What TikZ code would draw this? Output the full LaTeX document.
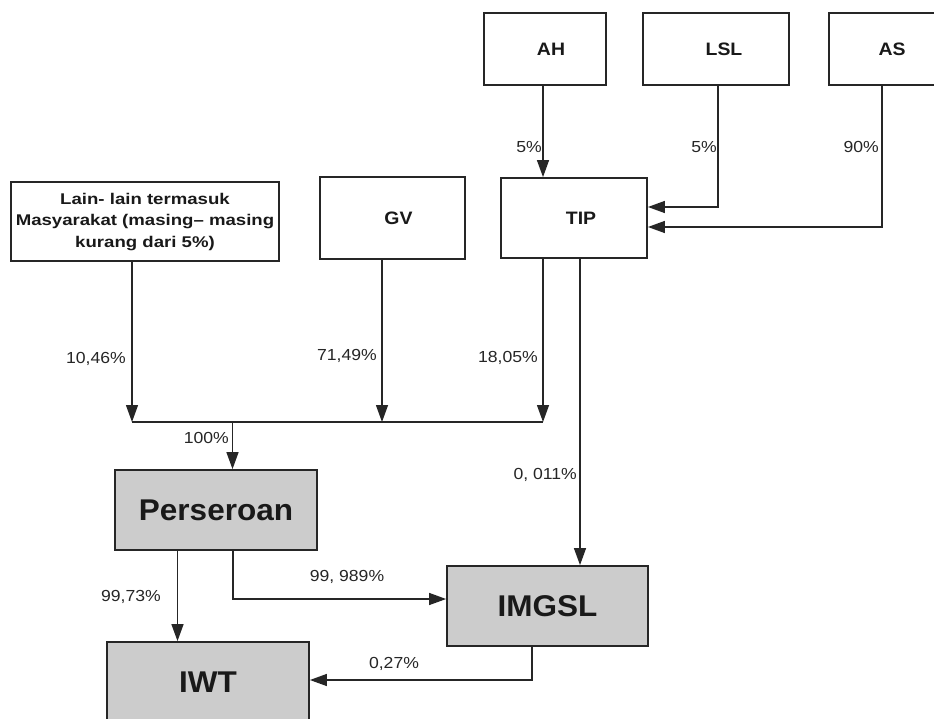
\documentclass[tikz,border=0pt]{standalone}
\usepackage{fontspec}
\setmainfont{Liberation Sans}
\usepackage{graphicx}
\usetikzlibrary{arrows.meta}
\newcommand{\stA}[1]{\scalebox{1.08}[1]{#1}}
\newcommand{\stB}[1]{\scalebox{1.05}[1]{#1}}
\newcommand{\stL}[1]{\scalebox{1.1}[1]{#1}}
\newcommand{\stC}[1]{\scalebox{1.2}[1]{#1}}
\tikzset{
  wbox/.style={draw=black!85,line width=1.8pt,fill=white,inner sep=0pt,text=black!90,
    font=\fontsize{18}{21}\selectfont\bfseries},
  gbox/.style={draw=black!85,line width=1.8pt,fill=black!20,inner sep=0pt,text=black!90,
    font=\fontsize{30}{36}\selectfont\bfseries},
  lbl/.style={inner sep=0pt,text=black!85,font=\fontsize{16}{19}\selectfont},
  conn/.style={line width=1.3pt,draw=black!85},
  arr/.style={conn,-{Triangle[length=17pt,width=12pt]}}
}
\begin{document}
\begin{tikzpicture}[x=1pt,y=-1pt]
\clip (0,0) rectangle (934,719);
\fill[white] (0,0) rectangle (934,719);
% top row
\node[wbox,minimum width=122pt,minimum height=72pt] (ah) at (545,49) {\hspace*{12pt}\stA{AH}};
\node[wbox,minimum width=146pt,minimum height=72pt] (lsl) at (716,49) {\hspace*{16pt}\stA{LSL}};
\node[wbox,minimum width=114pt,minimum height=72pt] (as) at (886,49) {\hspace*{12pt}\stA{AS}};
% middle row
\node[wbox,minimum width=268pt,minimum height=79pt,font=\fontsize{15.5}{21.5}\selectfont\bfseries] (oth) at (145,221.5)
  {\stC{\begin{tabular}{@{}c@{}}Lain- lain termasuk\\Masyarakat (masing– masing\\kurang dari 5\%)\end{tabular}}};
\node[wbox,minimum width=145pt,minimum height=82pt] (gv) at (392.5,218) {\hspace*{12pt}\stA{GV}};
\node[wbox,minimum width=146pt,minimum height=80pt] (tip) at (574,218) {\hspace*{14pt}\stA{TIP}};
% grey boxes
\node[gbox,minimum width=202pt,minimum height=80pt] (per) at (216,510) {\stB{Perseroan}};
\node[gbox,minimum width=201pt,minimum height=80pt] (img) at (547.5,606) {\stB{IMGSL}};
\node[gbox,minimum width=202pt,minimum height=80pt] (iwt) at (208,682) {\stB{IWT}};
% bus coordinates
\coordinate (bl) at (132,422);
\coordinate (bm) at (382,422);
\coordinate (br) at (543,422);
\coordinate (bj) at (232.5,422);
\coordinate (tx) at (580,258);
\coordinate (px) at (177.5,550);
\coordinate (pr) at (233,550);
\coordinate (ix) at (532,646);
% connectors to TIP
\draw[arr] ([xshift=-2pt]ah.south) -- ([xshift=-2pt]ah.south |- tip.north);
\draw[arr] ([xshift=2pt]lsl.south) |- ([yshift=11pt]tip.east);
\draw[arr] ([xshift=-4pt]as.south) |- ([yshift=-9pt]tip.east);
% connectors to bus
\draw[arr] (oth.south -| bl) -- (bl);
\draw[arr] (gv.south -| bm) -- (bm);
\draw[arr] (tip.south -| br) -- (br);
\draw[conn] (bl) -- (br);
\draw[arr] (bj) -- (bj |- per.north);
% TIP to IMGSL
\draw[arr] (tip.south -| tx) -- (tx |- img.north);
% Perseroan outputs
\draw[arr] (per.south -| px) -- (px |- iwt.north);
\draw[arr] (per.south -| pr) |- ([yshift=7pt]img.west);
% IMGSL to IWT
\draw[arr] (img.south -| ix) |- ([yshift=2pt]iwt.east);
% labels
\node[lbl,anchor=east] (l1) at (542,147) {\stL{5\%}};
\node[lbl,anchor=east] (l2) at (717,147) {\stL{5\%}};
\node[lbl,anchor=east] (l3) at (879,147) {\stL{90\%}};
\node[lbl,anchor=east] (l4) at (126,358.5) {\stL{10,46\%}};
\node[lbl,anchor=east] (l5) at (377,356) {\stL{71,49\%}};
\node[lbl,anchor=east] (l6) at (538,357.5) {\stL{18,05\%}};
\node[lbl,anchor=east] (l7) at (229,438) {\stL{100\%}};
\node[lbl,anchor=east] (l8) at (577,475) {\stL{0, 011\%}};
\node[lbl,anchor=east] (l9) at (161,597) {\stL{99,73\%}};
\node[lbl] (l10) at (347,577) {\stL{99, 989\%}};
\node[lbl] (l11) at (394,664) {\stL{0,27\%}};
\end{tikzpicture}
\end{document}
